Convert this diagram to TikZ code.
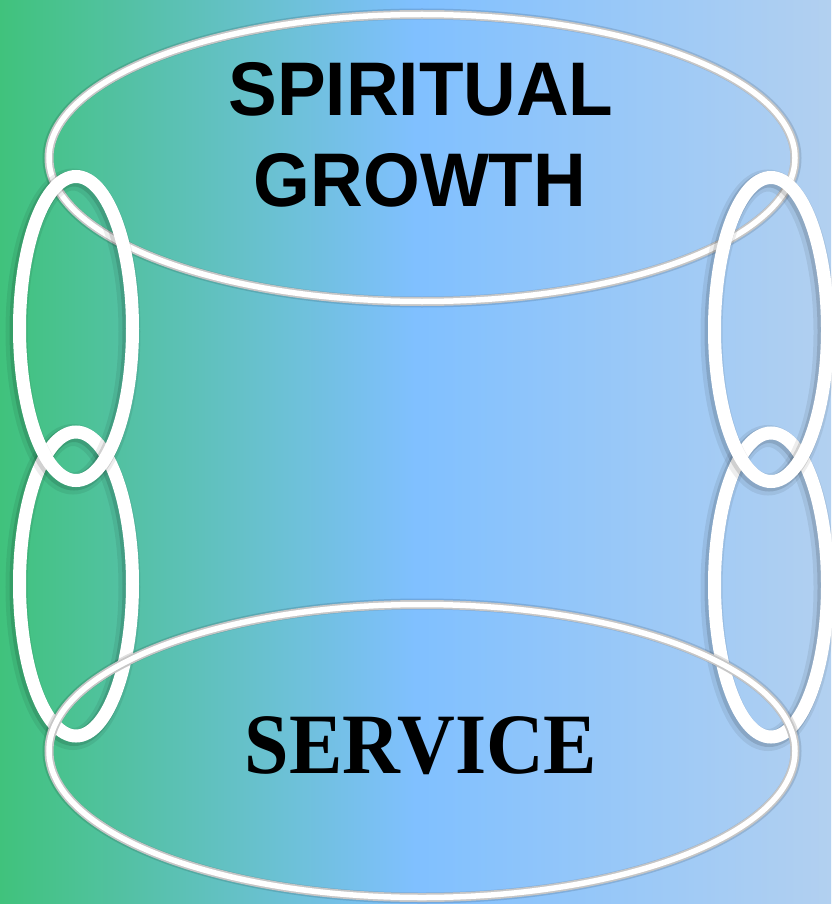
\documentclass[tikz,border=0pt]{standalone}
\usepackage{fontspec}
\newfontfamily\headfont[FakeStretch=0.96]{Liberation Sans}
\newfontfamily\basefont[FakeStretch=0.93]{Liberation Serif}
\definecolor{bgleft}{HTML}{40C27C}
\definecolor{bgmid}{HTML}{80C0FF}
\definecolor{bgright}{HTML}{B2D0F0}
\pgfdeclarehorizontalshading{bgfade}{100bp}{color(0bp)=(bgleft); color(25bp)=(bgleft); color(50bp)=(bgmid); color(75bp)=(bgright); color(100bp)=(bgright)}

\begin{document}
\begin{tikzpicture}[x=1pt, y=-1pt,
	rimshade/.style={line width=11pt, draw=black, draw opacity=.12},
	rim/.style={line width=9pt, draw=gray!45},
	rimcore/.style={line width=5.5pt, draw=white},
	linkhalo/.style={line width=22pt, draw=black, draw opacity=.07},
	linkshade/.style={line width=16pt, draw=black, draw opacity=.12},
	link/.style={line width=13pt, draw=white},
	title/.style={inner sep=0pt, anchor=base}]
	\useasboundingbox (0,0) rectangle (831,904);
	\shade[shading=bgfade] (0,0) rectangle (831,904);
	% top ring
	\draw[rimshade] (422,158) ellipse [x radius=374pt, y radius=144pt];
	\draw[rim] (422,158) ellipse [x radius=373pt, y radius=143.5pt];
	\draw[rimcore] (422,158) ellipse [x radius=373pt, y radius=143.5pt];
	% chain links, lower pair first
	\foreach \cx/\cy in {76/584, 771/585, 76/328.5, 771/329.5} {
		\draw[linkhalo, shift={(-3,3)}] (\cx,\cy) ellipse [x radius=56.5pt, y radius=152pt];
		\draw[linkshade, shift={(-2,2)}] (\cx,\cy) ellipse [x radius=56.5pt, y radius=152pt];
		\draw[link] (\cx,\cy) ellipse [x radius=56.5pt, y radius=152pt];
	}
	% bottom ring
	\draw[rimshade] (422,751) ellipse [x radius=374pt, y radius=147pt];
	\draw[rim] (422,751) ellipse [x radius=373pt, y radius=146.5pt];
	\draw[rimcore] (422,751) ellipse [x radius=373pt, y radius=146.5pt];
	% labels
	\node[title, font=\headfont\bfseries\fontsize{76}{91}\selectfont] (spiritual) at (421,116) {SPIRITUAL};
	\node[title, font=\headfont\bfseries\fontsize{76}{91}\selectfont] (growth) at (420,207) {GROWTH};
	\node[title, font=\basefont\bfseries\fontsize{86}{100}\selectfont] (service) at (421,773) {SERVICE};
\end{tikzpicture}
\end{document}
